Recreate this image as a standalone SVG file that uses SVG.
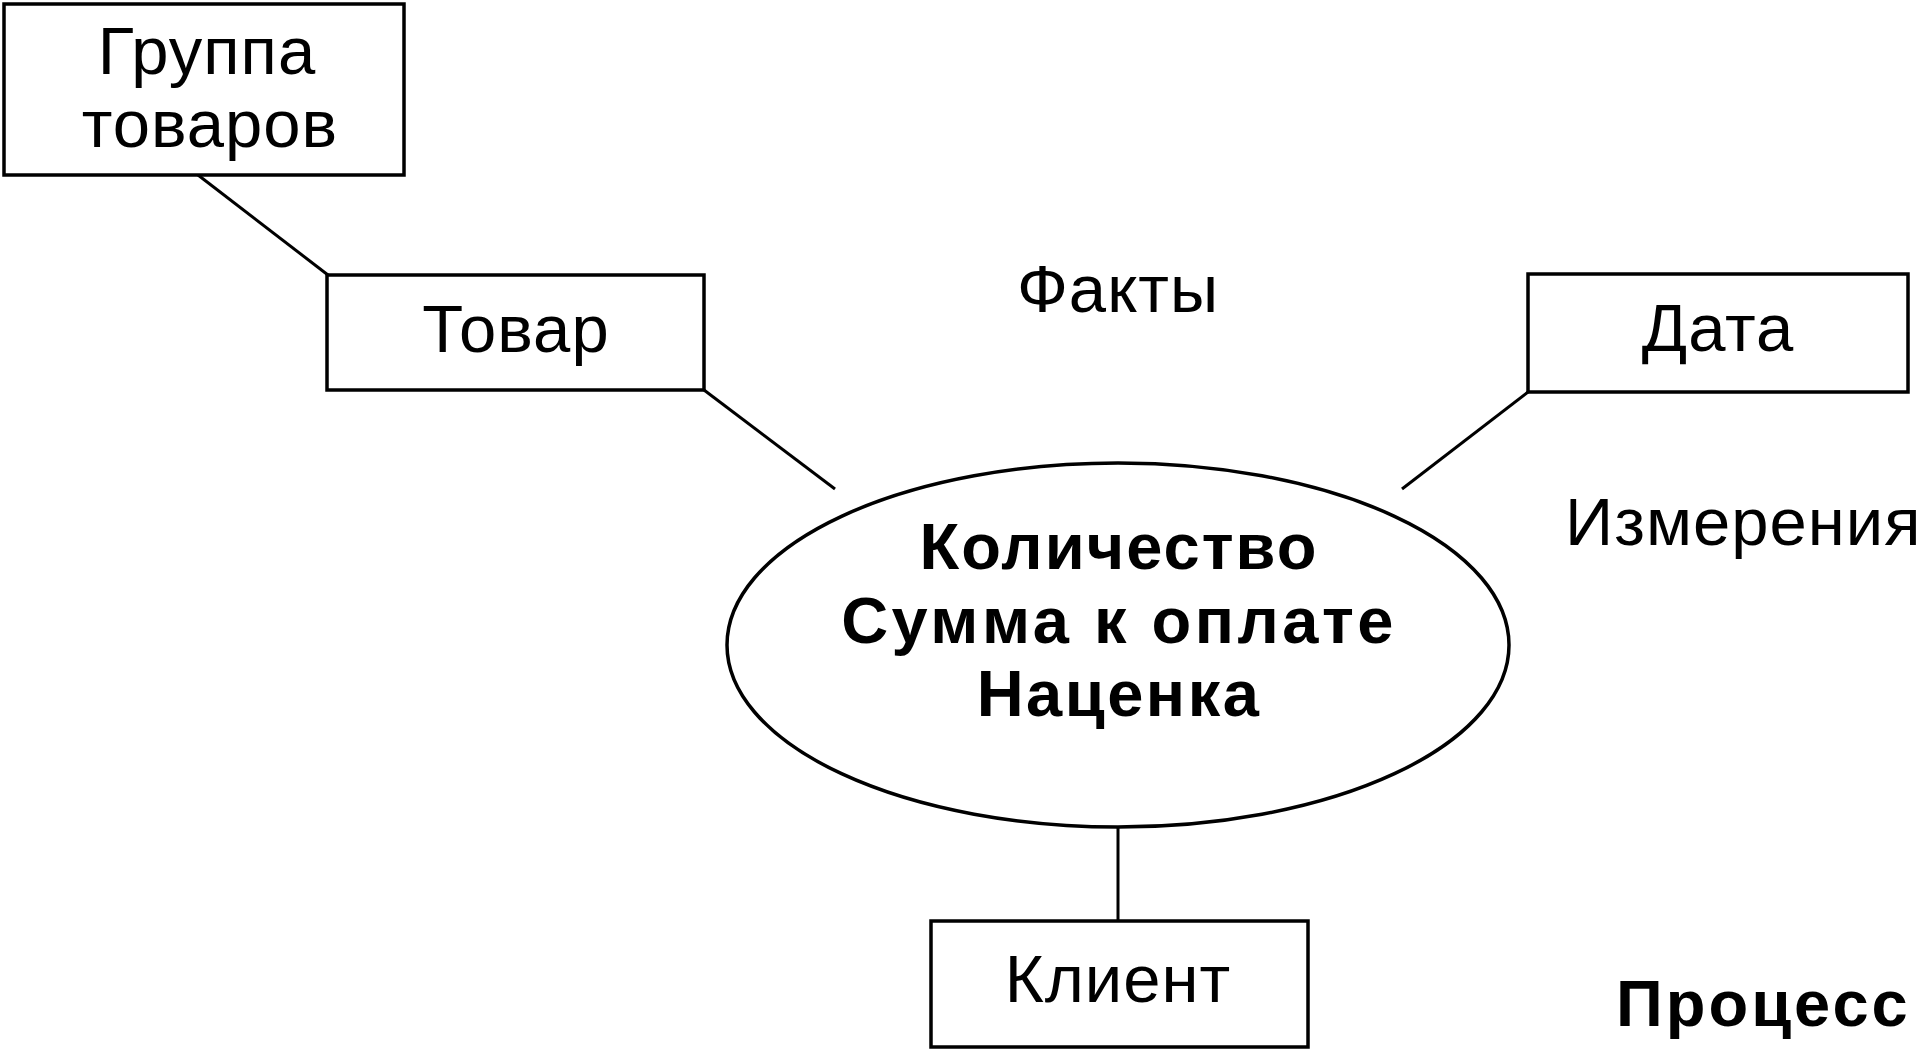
<svg xmlns="http://www.w3.org/2000/svg" width="1920" height="1050" viewBox="0 0 1920 1050">
<style>
.box{fill:#fff;stroke:#000;stroke-width:3.5}
.ell{fill:#fff;stroke:#000;stroke-width:3.5}
.con{stroke:#000;stroke-width:3;fill:none}
.t{font-family:"Liberation Sans",Arial,sans-serif;font-size:67px;letter-spacing:1px;fill:#000;text-anchor:middle}
.b{font-family:"Liberation Sans",Arial,sans-serif;font-size:65px;font-weight:bold;fill:#000;text-anchor:middle}
</style>
<rect width="1920" height="1050" fill="#fff"/>
<g id="connectors">
<line class="con" x1="198" y1="175" x2="328" y2="275"/>
<line class="con" x1="704" y1="390" x2="835" y2="489"/>
<line class="con" x1="1528" y1="392" x2="1402" y2="489"/>
<line class="con" x1="1118" y1="828" x2="1118" y2="921"/>
</g>
<g id="gruppa">
<rect class="box" x="4" y="4" width="400" height="171"/>
<text class="t" x="207" y="74">Группа</text>
<text class="t" x="210" y="147">товаров</text>
</g>
<g id="tovar">
<rect class="box" x="327" y="275" width="377" height="115"/>
<text class="t" x="516" y="352">Товар</text>
</g>
<g id="data">
<rect class="box" x="1528" y="274" width="380" height="118"/>
<text class="t" x="1718" y="351" letter-spacing="3">Дата</text>
</g>
<g id="fakty">
<ellipse class="ell" cx="1118" cy="645" rx="391" ry="182"/>
<text class="b" x="1119" y="569" letter-spacing="2">Количество</text>
<text class="b" x="1119" y="643" letter-spacing="3.5">Сумма к оплате</text>
<text class="b" x="1119" y="716" letter-spacing="2.5">Наценка</text>
</g>
<g id="klient">
<rect class="box" x="931" y="921" width="377" height="126"/>
<text class="t" x="1118" y="1002">Клиент</text>
</g>
<g id="labels">
<text class="t" x="1118" y="312" letter-spacing="3">Факты</text>
<text class="t" x="1565" y="545" style="text-anchor:start" letter-spacing="2.5">Измерения</text>
<text class="b" x="1616" y="1026" style="text-anchor:start" letter-spacing="3">Процесс</text>
</g>
</svg>
